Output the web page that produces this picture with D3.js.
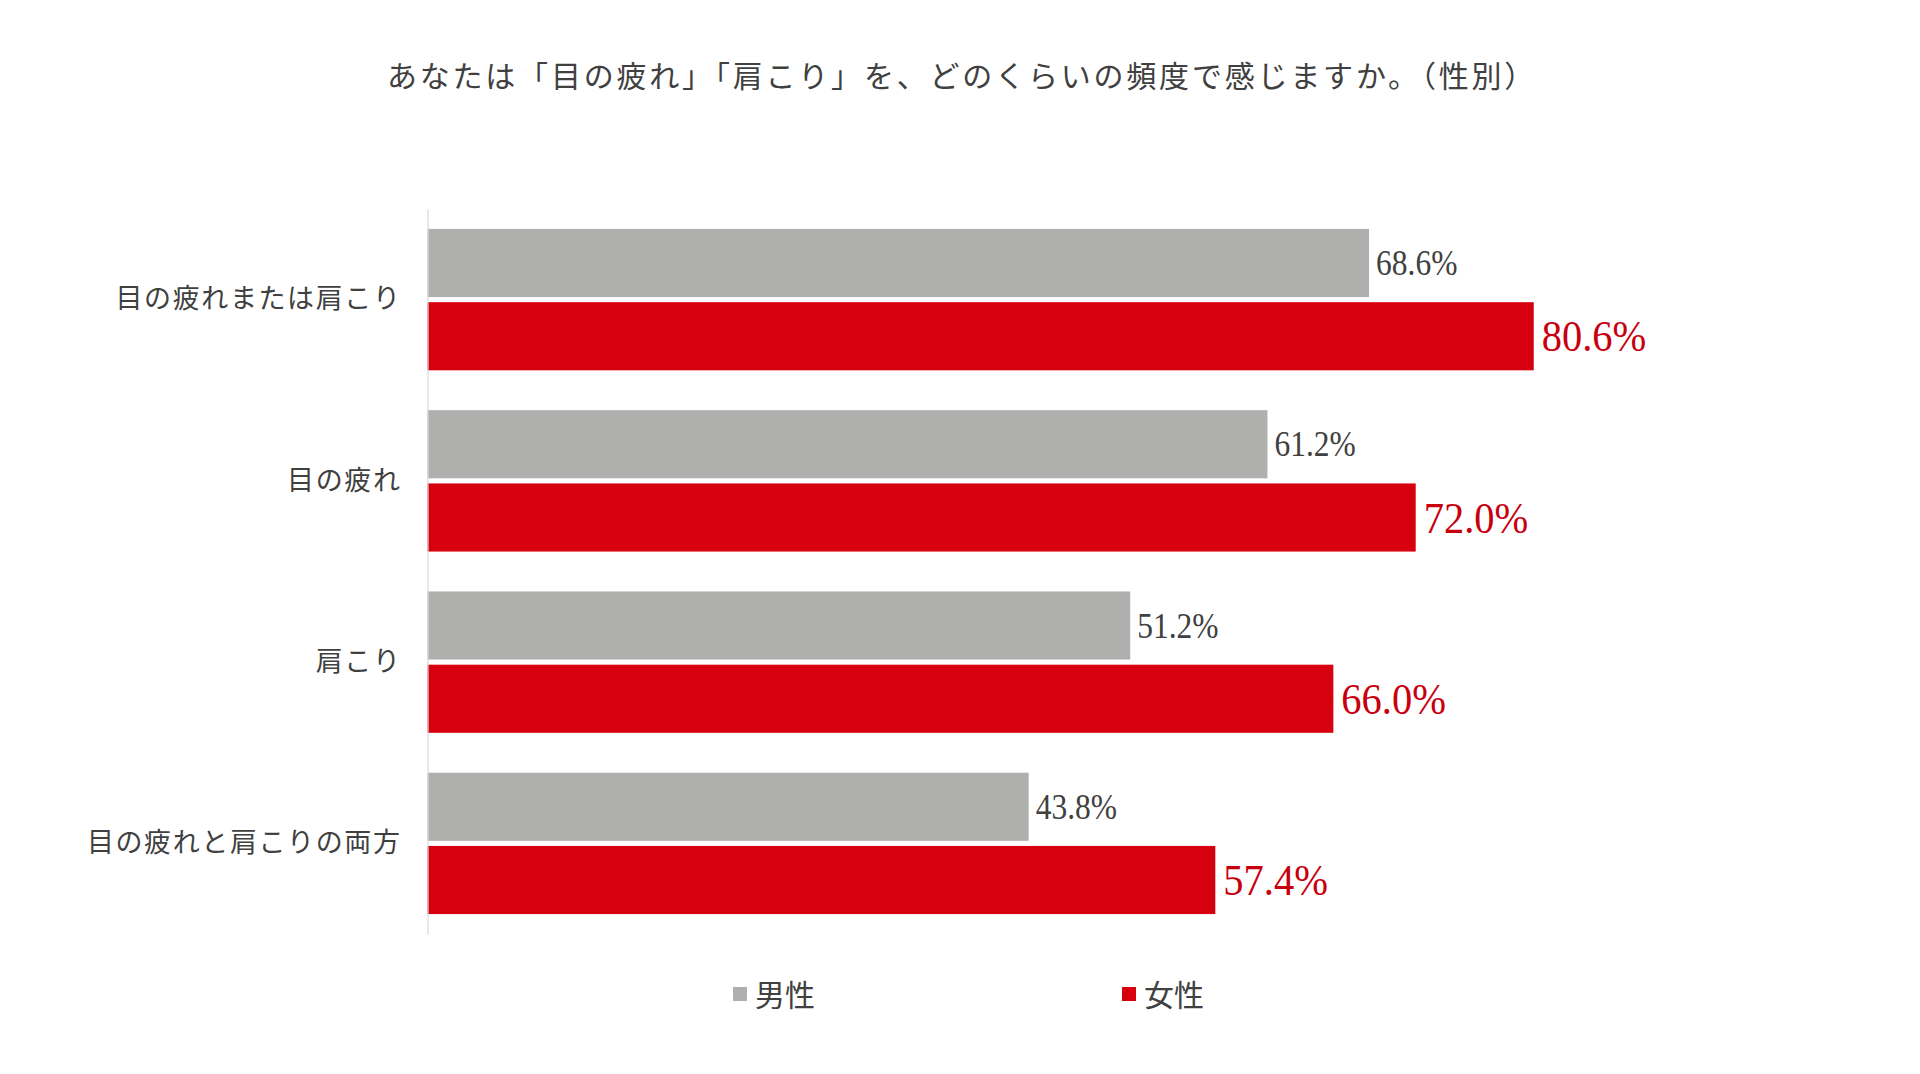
<!DOCTYPE html>
<html>
<head>
<meta charset="utf-8">
<script src="https://cdn.jsdelivr.net/npm/d3@7"></script>
<style>
  html, body { margin: 0; padding: 0; background: #fff; }
  svg { display: block; }
</style>
</head>
<body>
<svg id="chart" width="1920" height="1074"></svg>
<script>
const title = 'あなたは「目の疲れ」「肩こり」を、どのくらいの頻度で感じますか。（性別）';
const categories = ['目の疲れまたは肩こり', '目の疲れ', '肩こり', '目の疲れと肩こりの両方'];
const seriesNames = ['男性', '女性'];
const male = [68.6, 61.2, 51.2, 43.8];
const female = [80.6, 72.0, 66.0, 57.4];

const colors = { male: '#afb0ae', female: '#d7000f', femaleText: '#c8000e', text: '#404040', axis: '#d9d9d9' };
const jpFont = '"Noto Sans CJK JP", "Noto Sans", sans-serif';
const numFont = '"Liberation Serif", "DejaVu Serif", serif';

const svg = d3.select('#chart');

const x = d3.scaleLinear().domain([0, 100]).range([427.5, 1800]);
const y = d3.scaleBand().domain(categories).range([209, 934]).paddingInner(0.22).paddingOuter(0.11);
const sub = d3.scaleBand().domain(seriesNames).range([0, y.bandwidth()]).paddingInner(0.07);

const rows = categories.map((c, i) => ({ cat: c, values: [male[i], female[i]] }));

// title
svg.append('text')
  .attr('x', 962).attr('y', 74)
  .attr('text-anchor', 'middle').attr('dominant-baseline', 'central')
  .style('font-family', jpFont).style('font-size', '30px')
  .style('letter-spacing', '2.8px')
  .attr('fill', colors.text)
  .text(title);

// bars
const groups = svg.selectAll('g.row').data(rows).join('g')
  .attr('class', 'row')
  .attr('transform', d => `translate(0,${y(d.cat)})`);

groups.selectAll('rect').data(d => d.values.map((v, j) => ({ v, s: seriesNames[j], j })))
  .join('rect')
  .attr('x', x(0))
  .attr('y', d => sub(d.s))
  .attr('width', d => x(d.v) - x(0))
  .attr('height', sub.bandwidth())
  .attr('fill', d => d.j === 0 ? colors.male : colors.female);

// value labels
groups.selectAll('text.val').data(d => d.values.map((v, j) => ({ v, s: seriesNames[j], j })))
  .join('text')
  .attr('class', 'val')
  .attr('transform', d => `translate(${x(d.v) + (d.j === 0 ? 7 : 8)},${sub(d.s) + sub.bandwidth() / 2}) scale(0.9,1)`)
  .attr('dominant-baseline', 'central')
  .style('font-family', numFont)
  .style('font-size', d => d.j === 0 ? '35px' : '45px')
  .attr('fill', d => d.j === 0 ? colors.text : colors.femaleText)
  .text(d => d.v.toFixed(1) + '%');

// category axis
const yAxis = svg.append('g')
  .attr('transform', `translate(${x(0)},0)`)
  .call(d3.axisLeft(y).tickSize(0).tickPadding(26));
yAxis.select('.domain').attr('stroke', colors.axis).attr('stroke-width', 1.2);
yAxis.selectAll('text')
  .style('font-family', jpFont).style('font-size', '27px')
  .style('letter-spacing', '1.6px')
  .attr('fill', colors.text);

// legend
const legendX = [733, 1122];
const legend = svg.selectAll('g.legend').data(seriesNames).join('g')
  .attr('class', 'legend')
  .attr('transform', (d, i) => `translate(${legendX[i]},993)`);
legend.append('rect')
  .attr('x', 0).attr('y', -6).attr('width', 14).attr('height', 14)
  .attr('fill', (d, i) => i === 0 ? colors.male : colors.female);
legend.append('text')
  .attr('x', 22).attr('y', 0)
  .attr('dominant-baseline', 'central')
  .style('font-family', jpFont).style('font-size', '30px')
  .attr('fill', colors.text)
  .text(d => d);
</script>
</body>
</html>
